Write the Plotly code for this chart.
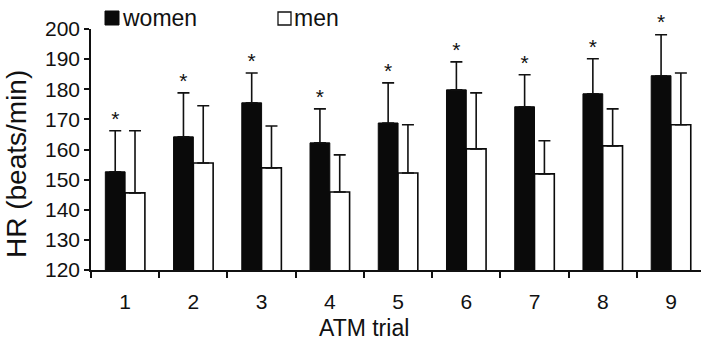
import plotly.graph_objects as go

trials = [1, 2, 3, 4, 5, 6, 7, 8, 9]
tick_labels = ["1", "2", "3", "4", "5", "6", "7", "8", "9"]
women_hr = [152.6, 164.2, 175.5, 162.2, 168.8, 179.8, 174.2, 178.5, 184.5]
women_sd = [13.6, 14.6, 9.9, 11.3, 13.3, 9.3, 10.6, 11.6, 13.6]
men_hr = [145.6, 155.5, 153.9, 145.9, 152.2, 160.2, 151.9, 161.2, 168.2]
men_sd = [20.6, 19.0, 13.9, 12.3, 16.0, 18.6, 11.0, 12.3, 17.2]
sig_marks = ["*", "*", "*", "*", "*", "*", "*", "*", "*"]

BW = 0.29
FONT = "Liberation Sans, Arial, sans-serif"

fig = go.Figure()
fig.add_trace(go.Bar(
    x=trials, y=women_hr, width=BW, offset=-BW, name="women",
    marker=dict(color="#0a0a0a", line=dict(color="#0a0a0a", width=1)),
    error_y=dict(type="data", array=women_sd, symmetric=False,
                 arrayminus=[0] * len(trials), color="#111", thickness=1.6, width=6),
    cliponaxis=False,
))
fig.add_trace(go.Bar(
    x=trials, y=men_hr, width=BW, offset=0, name="men",
    marker=dict(color="white", line=dict(color="#0a0a0a", width=1.6)),
    error_y=dict(type="data", array=men_sd, symmetric=False,
                 arrayminus=[0] * len(trials), color="#111", thickness=1.6, width=6),
    cliponaxis=False,
))
fig.add_trace(go.Scatter(
    x=[t - BW / 2 for t in trials],
    y=[w + s for w, s in zip(women_hr, women_sd)],
    mode="text", text=sig_marks, textposition="top center",
    textfont=dict(family=FONT, size=21, color="#111"),
    showlegend=False, hoverinfo="skip", cliponaxis=False,
))

# plot area in page pixels
L, R, T, B = 91, 701, 29, 270
def px_x(p):
    return (p - L) / (R - L)
def px_y(p):
    return (B - p) / (B - T)

shapes = [
    dict(type="rect", xref="paper", yref="paper", x0=px_x(105), x1=px_x(119),
         y0=px_y(25), y1=px_y(11), fillcolor="#0a0a0a", line=dict(color="#0a0a0a", width=1)),
    dict(type="rect", xref="paper", yref="paper", x0=px_x(278), x1=px_x(291),
         y0=px_y(25), y1=px_y(12), fillcolor="white", line=dict(color="#111", width=1.3)),
]
annotations = [
    dict(text="women", xref="paper", yref="paper", x=px_x(120), y=px_y(18),
         xanchor="left", yanchor="middle", showarrow=False,
         font=dict(family=FONT, size=23, color="#111")),
    dict(text="men", xref="paper", yref="paper", x=px_x(292), y=px_y(18),
         xanchor="left", yanchor="middle", showarrow=False,
         font=dict(family=FONT, size=23, color="#111")),
    dict(text="ATM trial", xref="paper", yref="paper", x=px_x(364), y=px_y(328),
         xanchor="center", yanchor="middle", showarrow=False,
         font=dict(family=FONT, size=23, color="#111")),
    dict(text="HR (beats/min)", xref="paper", yref="paper", x=px_x(16), y=px_y(164),
         xanchor="center", yanchor="middle", showarrow=False, textangle=-90,
         font=dict(family=FONT, size=28, color="#111")),
]

fig.update_layout(
    width=701, height=342,
    margin=dict(l=L, r=701 - R, t=T, b=342 - B, pad=0, autoexpand=False),
    paper_bgcolor="white", plot_bgcolor="white",
    barmode="overlay", showlegend=False,
    shapes=shapes, annotations=annotations,
    font=dict(family=FONT, color="#111"),
    xaxis=dict(
        range=[0.5, 9.44], tickmode="array", tickvals=trials, ticktext=tick_labels,
        ticks="outside", ticklen=12, tickcolor="rgba(0,0,0,0)",
        showline=True, linecolor="#111", linewidth=1.6, automargin=False,
        showgrid=False, zeroline=False, tickfont=dict(size=21),
        minor=dict(tickmode="linear", tick0=0.5, dtick=1, ticks="outside",
                   ticklen=6, tickwidth=1.6, tickcolor="#111", showgrid=False),
    ),
    yaxis=dict(
        range=[120, 200], tickmode="array", tickvals=list(range(120, 201, 10)),
        ticks="outside", ticklen=5, tickwidth=1.6, tickcolor="#111", automargin=False,
        showline=True, linecolor="#111", linewidth=1.6,
        showgrid=False, zeroline=False, tickfont=dict(size=21),
    ),
)

fig.write_html(
    "out.html",
    config={"displayModeBar": False},
    post_script="document.body.style.margin='0';document.body.style.padding='0';",
)
